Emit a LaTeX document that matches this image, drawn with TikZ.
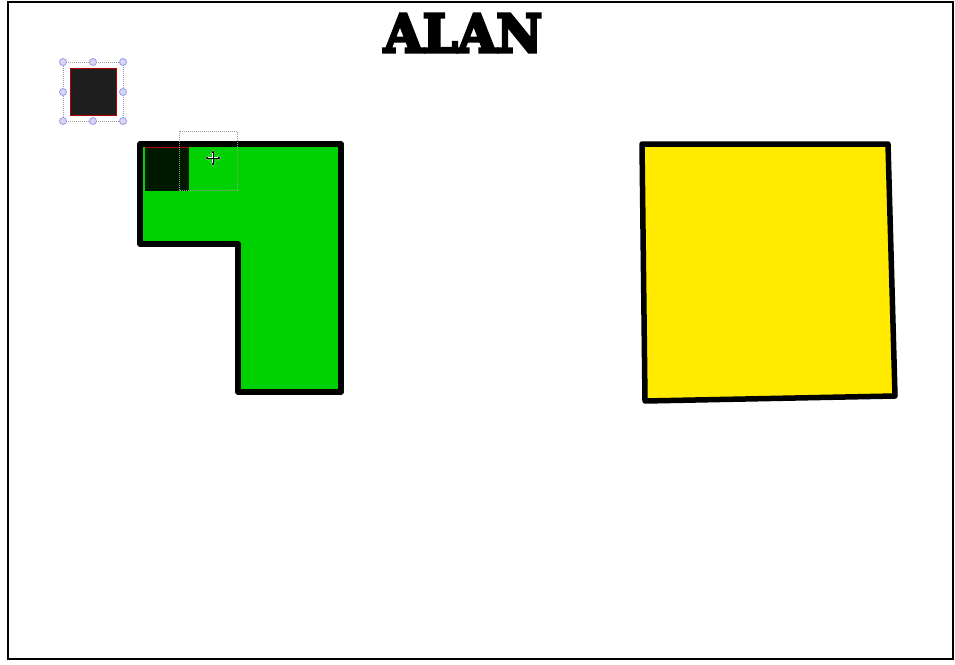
\documentclass[tikz,border=0pt]{standalone}
\usepackage{fontspec}
\usepackage{graphicx}
\newfontfamily\titlefont{DejaVu Serif}[BoldFont={DejaVu Serif Bold}, BoldFeatures={FakeBold=6}]
\usetikzlibrary{arrows.meta}
\definecolor{lgreen}{HTML}{00D100}
\definecolor{lyellow}{HTML}{FFEA00}
\definecolor{dkgreen}{HTML}{001A00}
\definecolor{handle}{HTML}{9A9AE6}
\tikzset{
  shapeline/.style={line width=5.5pt, line join=round},
  selbox/.style={draw=gray!80, densely dotted, line width=1pt},
  handledot/.style={circle, draw=handle, fill=handle!40, line width=0.8pt, inner sep=0pt, minimum size=7pt},
  titletext/.style={font=\titlefont\bfseries, inner sep=0pt},
}
\begin{document}
\begin{tikzpicture}[x=1pt,y=-1pt]
\useasboundingbox (0,0) rectangle (955,664);
\fill[white] (0,0) rectangle (955,664);
\draw[line width=1.6pt] (8,2) rectangle (953,659);
\node[titletext] (title) at (463,33) {\resizebox{158pt}{38pt}{ALAN}};
% small black square with selection
\coordinate (sa) at (63,62);
\coordinate (sb) at (123,121);
\draw[selbox] (sa) rectangle (sb);
\fill[black!88, draw=red!70!black, line width=0.6pt] (70,68) rectangle (116,115);
\foreach \p in {(63,62),(93,62),(123,62),(63,92),(123,92),(63,121),(93,121),(123,121)}
  \node[handledot] at \p {};
% green L
\draw[shapeline, fill=lgreen] (140,144) -- (341,144) -- (341,392) -- (238,392) -- (238,244) -- (140,244) -- cycle;
\fill[dkgreen] (145,148) rectangle (189,191);
\draw[red!70!black, line width=1pt] (145,147.5) -- (189,147.5);
\draw[selbox] (179,131) rectangle (237,190);
% move cursor
\coordinate (mc) at (213,158);
\foreach \a in {0,90,180,270}
  \draw[white, line width=2.2pt, -{Stealth[length=4pt,width=5pt]}] (mc) -- ++(\a:8);
\foreach \a in {0,90,180,270}
  \draw[black, line width=0.8pt, -{Stealth[length=3pt,width=3.5pt]}] (mc) -- ++(\a:7.5);
% yellow square
\draw[shapeline, fill=lyellow] (642,144) -- (888,144) -- (895,396) -- (645,401) -- cycle;
\end{tikzpicture}
\end{document}
